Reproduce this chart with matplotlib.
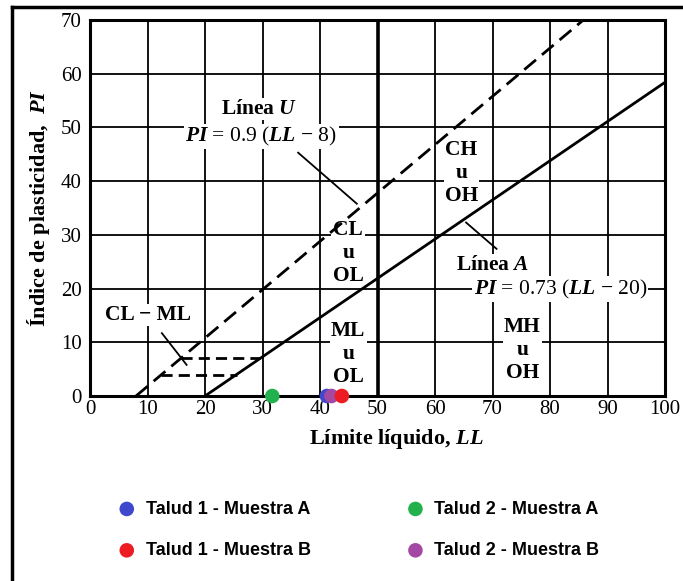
import matplotlib
matplotlib.use("Agg")
import matplotlib.pyplot as plt
from matplotlib.lines import Line2D

plt.rcParams['font.family'] = ['Liberation Serif', 'DejaVu Serif']
plt.rcParams['mathtext.fontset'] = 'custom'
plt.rcParams['mathtext.rm'] = 'Liberation Serif'
plt.rcParams['mathtext.it'] = 'Liberation Serif:italic:bold'
plt.rcParams['mathtext.bf'] = 'Liberation Serif:bold'

# ---- data ----
x_ticks = [0, 10, 20, 30, 40, 50, 60, 70, 80, 90, 100]
y_ticks = [0, 10, 20, 30, 40, 50, 60, 70]

u_line_ll = [8, 85.8]
u_line_pi = [0, 70]
a_line_ll = [20, 100]
a_line_pi = [0, 58.4]
clml_top_ll = [15.8, 29.6]
clml_top_pi = [7, 7]
clml_bot_ll = [12.4, 25.5]
clml_bot_pi = [4, 4]

samples = ["Talud 1 - Muestra A", "Talud 1 - Muestra B",
           "Talud 2 - Muestra A", "Talud 2 - Muestra B"]
sample_ll = [41.2, 43.8, 31.7, 42.0]
sample_pi = [0, 0, 0, 0]
sample_colors = ["#3F48CC", "#ED1C24", "#22B14C", "#A349A4"]
sample_z = [5, 7, 5, 6]

fig = plt.figure(figsize=(6.83, 5.81), dpi=100)
ax = fig.add_axes([90/683, 1-396/581, 575/683, 376/581])
ax.set_xlim(0, 100)
ax.set_ylim(0, 70)
ax.set_xticks(x_ticks)
ax.set_yticks(y_ticks)
ax.tick_params(length=0, labelsize=15)
ax.tick_params(axis='x', pad=3)
ax.tick_params(axis='y', pad=6)
ax.set_axisbelow(True)
ax.grid(True, color='black', lw=1.3)
for s in ax.spines.values():
    s.set_linewidth(2.2)
ax.axvline(50, color='black', lw=2.6, zorder=0.6)

ax.plot(u_line_ll, u_line_pi, color='black', lw=2, ls=(0, (5.5, 2.8)), zorder=3)
ax.plot(a_line_ll, a_line_pi, color='black', lw=2, zorder=3)
ax.plot(clml_top_ll, clml_top_pi, color='black', lw=2, ls=(0, (4, 2.2)), zorder=3)
ax.plot(clml_bot_ll, clml_bot_pi, color='black', lw=2, ls=(0, (4, 2.2)), zorder=3)

# leader lines
ax.plot([36.2, 46.4], [45.3, 35.8], color='black', lw=1.3, zorder=3)
ax.plot([65.4, 70.7], [32.3, 27.4], color='black', lw=1.3, zorder=3)
ax.plot([12.5, 16.8], [11.7, 5.8], color='black', lw=1.3, zorder=3)

fs = 15.5
box = dict(facecolor='white', edgecolor='none', pad=1)
tk = dict(ha='center', va='center', zorder=2, bbox=box)
ax.text(29.4, 53.4, r"Línea $U$", fontsize=fs, fontweight='bold', **tk)
ax.text(29.8, 48.3, r"$PI$ = 0.9 ($LL$ − 8)", fontsize=fs, **tk)
ax.text(64.6, 41.6, "CH\nu\nOH", fontsize=fs, fontweight='bold', linespacing=1.2, **tk)
ax.text(44.9, 26.7, "CL\nu\nOL", fontsize=fs, fontweight='bold', linespacing=1.2, **tk)
ax.text(44.9, 7.8, "ML\nu\nOL", fontsize=fs, fontweight='bold', linespacing=1.2, **tk)
ax.text(75.2, 8.6, "MH\nu\nOH", fontsize=fs, fontweight='bold', linespacing=1.2, **tk)
ax.text(10.1, 15.1, "CL − ML", fontsize=fs, fontweight='bold', **tk)
ax.text(70.0, 24.4, r"Línea $A$", fontsize=fs, fontweight='bold', **tk)
ax.text(81.8, 19.9, r"$PI$ = 0.73 ($LL$ − 20)", fontsize=fs, **tk)

ax.set_xlabel(r"Límite líquido, $LL$", fontsize=16, fontweight='bold', labelpad=3)
ax.xaxis.set_label_coords((396-90)/575, -0.082)
ax.set_ylabel(r"Índice de plasticidad,  $PI$", fontsize=16, fontweight='bold', labelpad=6)

handles = []
for name, xv, yv, c, z in zip(samples, sample_ll, sample_pi, sample_colors, sample_z):
    h = ax.scatter([xv], [yv], s=110, color=c, edgecolors='none', zorder=z,
                   clip_on=False, label=name)
    handles.append(h)

fig.legend(handles, samples, ncol=2, loc='center', bbox_to_anchor=(0.525, 0.088),
           frameon=False, prop={'family': 'Liberation Sans', 'weight': 'bold', 'size': 13},
           handlelength=1.0, handletextpad=0.55, columnspacing=5.3, labelspacing=1.35,
           scatterpoints=1, markerscale=1.0)

# outer frame
fig.add_artist(Line2D([12/683, 12/683], [1-7/581, 0], transform=fig.transFigure,
                      color='black', lw=2.5))
fig.add_artist(Line2D([12/683, 1], [1-7/581, 1-7/581], transform=fig.transFigure,
                      color='black', lw=2.5))

fig.savefig("out.png", dpi=100)
